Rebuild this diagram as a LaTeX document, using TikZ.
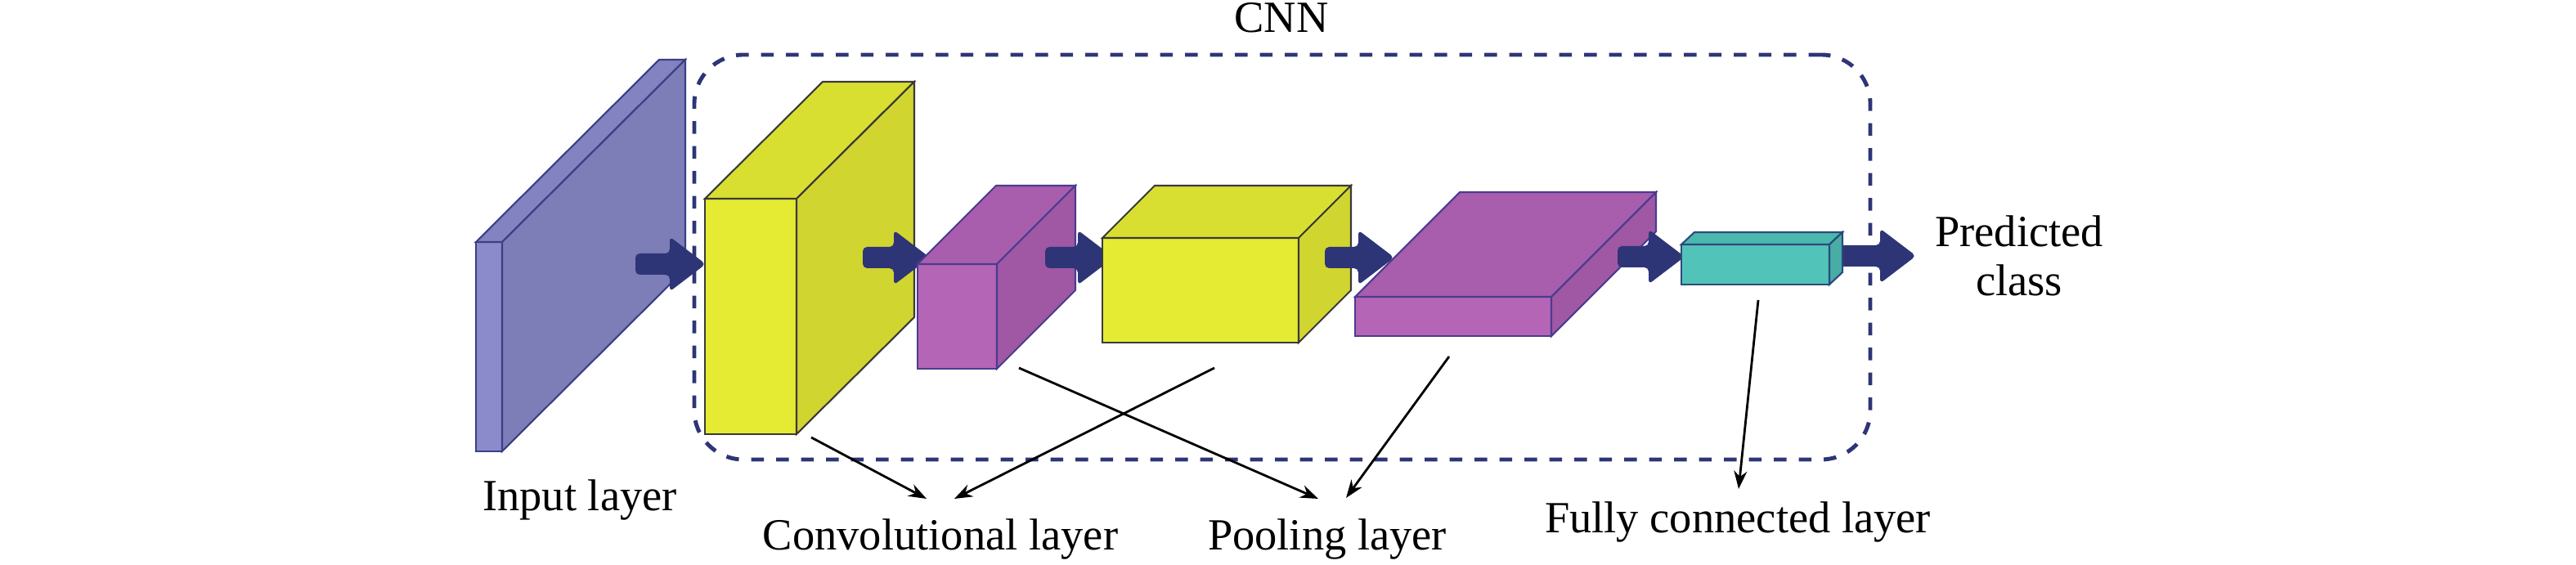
\documentclass[tikz,border=0pt]{standalone}
\usepackage{fontspec}
\setmainfont{Liberation Serif}
\usetikzlibrary{arrows.meta}
\definecolor{cnnBlue}{RGB}{46,53,118}
\definecolor{inFront}{RGB}{139,139,203}
\definecolor{inTop}{RGB}{131,131,193}
\definecolor{inSide}{RGB}{125,125,183}
\definecolor{inLine}{RGB}{59,63,133}
\definecolor{convFront}{RGB}{229,234,51}
\definecolor{convTop}{RGB}{217,223,49}
\definecolor{convSide}{RGB}{209,213,48}
\definecolor{convLine}{RGB}{58,58,58}
\definecolor{poolFront}{RGB}{181,101,181}
\definecolor{poolTop}{RGB}{169,93,173}
\definecolor{poolSide}{RGB}{160,88,164}
\definecolor{poolLine}{RGB}{74,60,144}
\definecolor{fcFront}{RGB}{82,195,184}
\definecolor{fcTop}{RGB}{75,184,174}
\definecolor{fcSide}{RGB}{71,173,165}
\definecolor{fcLine}{RGB}{44,74,124}

\begin{document}
\begin{tikzpicture}[
    face/.style={draw,line width=0.6pt,inner sep=0pt,outer sep=0pt},
    inbox/.style={face,draw=inLine},
    convbox/.style={face,draw=convLine},
    poolbox/.style={face,draw=poolLine},
    fcbox/.style={face,draw=fcLine},
    fat/.style={fill=cnnBlue,rounded corners=1.5pt,to path={
      ([yshift=1.3mm]\tikztostart) -- ([xshift=-4.4mm,yshift=1.3mm]\tikztotarget)
      -- ([xshift=-4.4mm,yshift=3.35mm]\tikztotarget) -- (\tikztotarget)
      -- ([xshift=-4.4mm,yshift=-3.35mm]\tikztotarget) -- ([xshift=-4.4mm,yshift=-1.3mm]\tikztotarget)
      -- ([yshift=-1.3mm]\tikztostart) -- cycle}},
    ptr/.style={-{Stealth[length=2.2mm,width=1.6mm]},line width=0.8pt},
    lbl/.style={inner sep=0pt,font=\fontsize{15.5}{17}\selectfont},
    frame/.style={draw=cnnBlue,line width=1.4pt,dash pattern=on 1.55mm off 1.5mm,
      rounded corners=6mm,inner sep=0pt}
  ]
  \useasboundingbox (0,0) rectangle (31.5,6.91);

  % ends of the thick arrows
  \coordinate (a1s) at (7.77,3.68);  \coordinate (a1e) at (8.63,3.68);
  \coordinate (a2s) at (10.55,3.76); \coordinate (a2e) at (11.37,3.76);
  \coordinate (a3s) at (12.78,3.76); \coordinate (a3e) at (13.62,3.76);
  \coordinate (a4s) at (16.20,3.76); \coordinate (a4e) at (17.05,3.76);
  \coordinate (a5s) at (19.78,3.77); \coordinate (a5e) at (20.60,3.77);
  \coordinate (a6s) at (22.40,3.78); \coordinate (a6e) at (23.43,3.78);

  % input
  \node[inbox,fill=inFront,minimum width=0.32cm,minimum height=2.56cm] (input) at (5.98,2.67) {};
  \filldraw[inbox,fill=inTop] (input.north west) -- ++(2.24,2.23) -- ++(0.32,0) -- (input.north east) -- cycle;
  \filldraw[inbox,fill=inSide] (input.north east) -- ++(2.24,2.23) -- ++(0,-2.56) -- (input.south east) -- cycle;
  \path[fat] (a1s) to (a1e);

  \node[frame,minimum width=14.38cm,minimum height=4.95cm] (cnn) at (15.68,3.765) {};

  % convolution 1
  \node[convbox,fill=convFront,minimum width=1.12cm,minimum height=2.88cm] (conv1) at (9.18,3.04) {};
  \filldraw[convbox,fill=convTop] (conv1.north west) -- ++(1.44,1.43) -- ++(1.12,0) -- (conv1.north east) -- cycle;
  \filldraw[convbox,fill=convSide] (conv1.north east) -- ++(1.44,1.43) -- ++(0,-2.88) -- (conv1.south east) -- cycle;
  \path[fat] (a2s) to (a2e);

  % pooling 1
  \node[poolbox,fill=poolFront,minimum width=0.97cm,minimum height=1.28cm] (pool1) at (11.705,3.04) {};
  \filldraw[poolbox,fill=poolTop] (pool1.north west) -- ++(0.96,0.96) -- ++(0.97,0) -- (pool1.north east) -- cycle;
  \filldraw[poolbox,fill=poolSide] (pool1.north east) -- ++(0.96,0.96) -- ++(0,-1.28) -- (pool1.south east) -- cycle;
  \path[fat] (a3s) to (a3e);

  % convolution 2
  \node[convbox,fill=convFront,minimum width=2.40cm,minimum height=1.28cm] (conv2) at (14.68,3.36) {};
  \filldraw[convbox,fill=convTop] (conv2.north west) -- ++(0.64,0.64) -- ++(2.40,0) -- (conv2.north east) -- cycle;
  \filldraw[convbox,fill=convSide] (conv2.north east) -- ++(0.64,0.64) -- ++(0,-1.28) -- (conv2.south east) -- cycle;
  \path[fat] (a4s) to (a4e);

  % pooling 2
  \node[poolbox,fill=poolFront,minimum width=2.40cm,minimum height=0.48cm] (pool2) at (17.77,3.04) {};
  \filldraw[poolbox,fill=poolTop] (pool2.north west) -- ++(1.28,1.28) -- ++(2.40,0) -- (pool2.north east) -- cycle;
  \filldraw[poolbox,fill=poolSide] (pool2.north east) -- ++(1.28,1.28) -- ++(0,-0.48) -- (pool2.south east) -- cycle;
  \path[fat] (a5s) to (a5e);
  \path[fat] (a6s) to (a6e);

  % fully connected
  \node[fcbox,fill=fcFront,minimum width=1.81cm,minimum height=0.49cm] (fc) at (21.465,3.675) {};
  \filldraw[fcbox,fill=fcTop] (fc.north west) -- ++(0.16,0.15) -- ++(1.81,0) -- (fc.north east) -- cycle;
  \filldraw[fcbox,fill=fcSide] (fc.north east) -- ++(0.16,0.15) -- ++(0,-0.49) -- (fc.south east) -- cycle;

  % labels
  \node[lbl,anchor=base] (cnnlbl) at (15.67,6.51) {CNN};
  \node[lbl,anchor=base] (inputlbl) at (7.09,0.66) {Input layer};
  \node[lbl,anchor=base] (convlbl) at (11.50,0.18) {Convolutional layer};
  \node[lbl,anchor=base] (poollbl) at (16.23,0.18) {Pooling layer};
  \node[lbl,anchor=base] (fclbl) at (21.25,0.39) {Fully connected layer};
  \node[lbl,anchor=north,align=center] (predlbl) at (24.69,4.28) {Predicted\\class};

  \draw[ptr] ([shift={(0.18,-0.04)}]conv1.south east) -- ([shift={(-0.17,0.63)}]convlbl.base);
  \draw[ptr] ([shift={(0.17,-0.31)}]conv2.south) -- ([shift={(0.17,0.63)}]convlbl.base);
  \draw[ptr] ([shift={(0.27,0.01)}]pool1.south east) -- ([shift={(-0.11,0.63)}]poollbl.base);
  \draw[ptr] ([shift={(-0.05,-0.25)}]pool2.south) -- ([shift={(0.23,0.64)}]poollbl.base);
  \draw[ptr] ([shift={(0.035,-0.19)}]fc.south) -- ([shift={(0.01,0.54)}]fclbl.base);
\end{tikzpicture}
\end{document}
